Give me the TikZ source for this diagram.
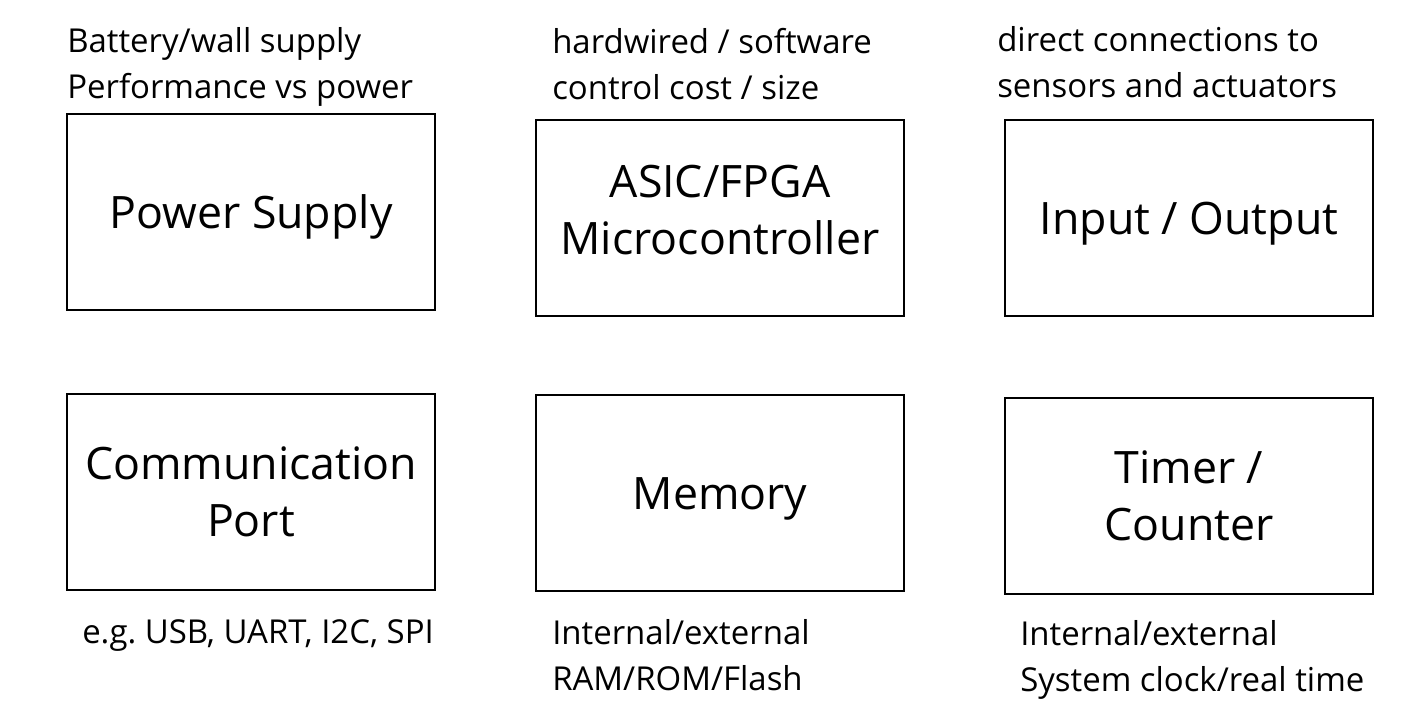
\documentclass[tikz,border=0pt]{standalone}
\usepackage{fontspec}
\setmainfont{Open Sans}
\usetikzlibrary{positioning}

\begin{document}
\begin{tikzpicture}[
      x=0.75pt, y=-0.75pt,
      block/.style={draw, line width=1.5pt, minimum width=276pt, minimum height=147pt,
        align=center, font=\fontsize{33.5}{43}\selectfont},
      oneline/.style={text height=31pt, text depth=7pt},
      note/.style={anchor=west, align=left, inner sep=0pt,
        font=\fontsize{24.7}{34}\selectfont}
    ]
    \useasboundingbox (0,0) rectangle (1425,726);
    % top row
    \node[block, oneline] (power) at (251,212) {Power Supply};
    \node[block, text depth=12pt] (mcu) at (720,218) {ASIC/FPGA\\Microcontroller};
    \node[block, oneline] (io) at (1189,218) {Input / Output};
    % bottom row
    \node[block] (comm) at (251,492) {Communication\\Port};
    \node[block, oneline] (mem) at (720,493) {Memory};
    \node[block] (timer) at (1189,496) {Timer /\\Counter};
    % notes
    \node[note] (powernote) at (67,67) {Battery/wall supply\\Performance vs power};
    \node[note] (mcunote) at (552,64) {hardwired / software\\control cost / size};
    \node[note] (ionote) at (997,62) {direct connections to\\sensors and actuators};
    \node[note] (commnote) at (82,636) {e.g.\ USB, UART, I2C, SPI};
    \node[note] (memnote) at (552,655) {Internal/external\\RAM/ROM/Flash};
    \node[note] (timernote) at (1020,660) {Internal/external\\System clock/real time};
  \end{tikzpicture}
\end{document}
